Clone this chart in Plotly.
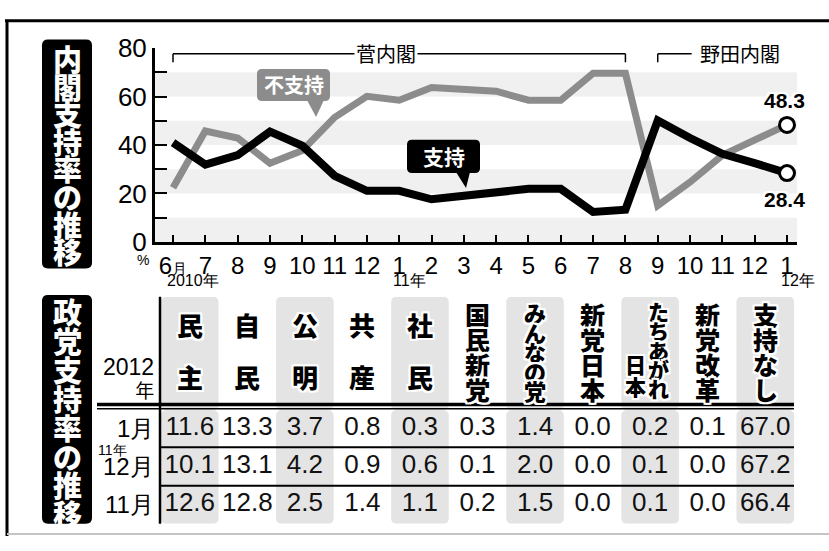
import plotly.graph_objects as go

W, H = 829, 551

# ---------------- data ----------------
months = ["6<span style='font-size:15px'>月</span>", "7", "8", "9", "10", "11", "12",
          "1", "2", "3", "4", "5", "6", "7", "8", "9", "10", "11", "12", "1"]
years = ["2010年", "11年", "12年"]
year_pos = [0, 7, 19]
support = [41.0, 31.9, 35.8, 45.5, 39.7, 27.3, 21.1, 21.1, 17.6, 18.9, 20.6,
           21.9, 21.9, 12.4, 13.3, 50.1, 42.9, 36.4, 32.5, 28.4]
disapprove = [22.4, 45.8, 42.9, 32.5, 37.7, 51.4, 60.1, 58.5, 63.7, 63.1, 62.2,
              58.5, 58.5, 69.6, 69.6, 15.0, 24.7, 35.8, 42.3, 48.3]
cabinets = ["菅内閣", "野田内閣"]
cabinet_start = [0, 15]
cabinet_end = [14, 19]
callout_support = "支持"
callout_disapprove = "不支持"

title_top = "内閣支持率の推移"
title_bottom = "政党支持率の推移"

parties = ["民主", "自民", "公明", "共産", "社民", "国民新党", "みんなの党",
           "新党日本", "たちあがれ日本", "新党改革", "支持なし"]
row_labels = ["1月", "12月", "11月"]
jan_2012 = [11.6, 13.3, 3.7, 0.8, 0.3, 0.3, 1.4, 0.0, 0.2, 0.1, 67.0]
dec_2011 = [10.1, 13.1, 4.2, 0.9, 0.6, 0.1, 2.0, 0.0, 0.1, 0.0, 67.2]
nov_2011 = [12.6, 12.8, 2.5, 1.4, 1.1, 0.2, 1.5, 0.0, 0.1, 0.0, 66.4]
table_rows = [jan_2012, dec_2011, nov_2011]

# ---------------- helpers ----------------
JP = "Noto Sans CJK JP"
SANS = "Liberation Sans, Arial"
HALO = ("white 2px 0px 0px, white -2px 0px 0px, white 0px 2px 0px, white 0px -2px 0px, "
        "white 2px 2px 0px, white -2px -2px 0px, white 2px -2px 0px, white -2px 2px 0px")


def px(x):
    return x / W


def py(y):
    return 1 - y / H


def rrect(x0, y0, x1, y1, r):
    return (f"M {px(x0+r)},{py(y0)} L {px(x1-r)},{py(y0)} Q {px(x1)},{py(y0)} {px(x1)},{py(y0+r)} "
            f"L {px(x1)},{py(y1-r)} Q {px(x1)},{py(y1)} {px(x1-r)},{py(y1)} "
            f"L {px(x0+r)},{py(y1)} Q {px(x0)},{py(y1)} {px(x0)},{py(y1-r)} "
            f"L {px(x0)},{py(y0+r)} Q {px(x0)},{py(y0)} {px(x0+r)},{py(y0)} Z")


def tri(a, b, c):
    return (f"M {px(a[0])},{py(a[1])} L {px(b[0])},{py(b[1])} L {px(c[0])},{py(c[1])} Z")


def note(**kw):
    d = dict(showarrow=False, xanchor="center", yanchor="middle")
    d.update(kw)
    return d


def vtext(chars, x, xref, y_first, step, fs, color, shadow="none"):
    """vertical (tategaki) text as one annotation: one glyph per line, tight line pitch"""
    body = "<br>".join(f"<span style='font-size:{fs}px'>{ch}</span>" for ch in chars)
    yc = y_first + step * (len(chars) - 1) / 2
    return note(x=x, xref=xref, y=py(yc), yref="paper", text=body,
                font=dict(family=JP, size=step / 1.3, color=color, weight=900, shadow=shadow))


fig = go.Figure()
shapes = []
ann = []
n = len(months)
xi = list(range(n))

# ---------------- line chart ----------------
fig.add_trace(go.Scatter(x=xi, y=disapprove, mode="lines", line=dict(color="#8c8c8c", width=7),
                         hoverinfo="skip", xaxis="x", yaxis="y"))
fig.add_trace(go.Scatter(x=xi, y=support, mode="lines", line=dict(color="#000000", width=8),
                         hoverinfo="skip", xaxis="x", yaxis="y"))
fig.add_trace(go.Scatter(x=[xi[-1], xi[-1]], y=[disapprove[-1], support[-1]], mode="markers",
                         marker=dict(size=15, color="white", line=dict(color="black", width=3)),
                         hoverinfo="skip", xaxis="x", yaxis="y"))

for lo in [0, 20, 40, 60]:
    shapes.append(dict(type="rect", xref="x domain", yref="y", x0=0, x1=1, y0=lo, y1=lo + 10,
                       fillcolor="#f0f0f0", line_width=0, layer="below"))

# end labels
ann.append(note(x=xi[-1], y=disapprove[-1], xref="x", yref="y", text=f"{disapprove[-1]:.1f}",
                yshift=24, xshift=-3,
                font=dict(family=SANS, size=21, color="black", weight="bold", shadow=HALO)))
ann.append(note(x=xi[-1], y=support[-1], xref="x", yref="y", text=f"{support[-1]:.1f}",
                yshift=-26, xshift=-3,
                font=dict(family=SANS, size=21, color="black", weight="bold", shadow=HALO)))

# year labels under month ticks
for t, p in zip(years, year_pos):
    ann.append(note(x=p, y=py(281), xref="x", yref="paper", text=t, xanchor="left", xshift=-8,
                    font=dict(family=SANS, size=16, color="black")))
ann.append(note(x=px(143), y=py(259), xref="paper", yref="paper", text="%",
                font=dict(family=SANS, size=14, color="black")))

# cabinet brackets
for name, s, e in zip(cabinets, cabinet_start, cabinet_end):
    if name == cabinets[0]:
        shapes.append(dict(type="line", xref="x", yref="paper", x0=s, x1=e, y0=py(41), y1=py(41),
                           line=dict(color="black", width=1.5)))
        for xx in (s, e):
            shapes.append(dict(type="line", xref="x", yref="paper", x0=xx, x1=xx, y0=py(41), y1=py(50),
                               line=dict(color="black", width=1.5)))
        ann.append(note(x=(s + e) / 2 - 0.4, y=py(41), xref="x", yref="paper", text=name,
                        bgcolor="white", borderpad=1,
                        font=dict(family=JP, size=20, color="black")))
    else:
        shapes.append(dict(type="line", xref="x", yref="paper", x0=s, x1=s + 1.05, y0=py(41), y1=py(41),
                           line=dict(color="black", width=1.5)))
        shapes.append(dict(type="line", xref="x", yref="paper", x0=s, x1=s, y0=py(41), y1=py(50),
                           line=dict(color="black", width=1.5)))
        ann.append(note(x=s + 1.25, y=py(41), xref="x", yref="paper", text=name, xanchor="left",
                        font=dict(family=JP, size=20, color="black")))

# callouts
shapes.append(dict(type="path", xref="paper", yref="paper", path=rrect(257, 57, 330, 91, 5),
                   fillcolor="#8c8c8c", line_width=0))
shapes.append(dict(type="path", xref="paper", yref="paper", path=tri((307, 90), (324, 90), (316, 108)),
                   fillcolor="#8c8c8c", line_width=0))
ann.append(note(x=px(293.5), y=py(74), xref="paper", yref="paper", text=callout_disapprove,
                font=dict(family=JP, size=20, color="white", weight="bold")))
shapes.append(dict(type="path", xref="paper", yref="paper", path=rrect(407, 132, 480, 167, 5),
                   fillcolor="black", line_width=0))
shapes.append(dict(type="path", xref="paper", yref="paper", path=tri((456, 166), (470, 166), (466, 183)),
                   fillcolor="black", line_width=0))
ann.append(note(x=px(443.5), y=py(149.5), xref="paper", yref="paper", text=callout_support,
                font=dict(family=JP, size=21, color="white", weight="bold")))

# ---------------- title boxes ----------------
for text, top, bot, first, step in [(title_top, 26, 268, 50.5, 27.6), (title_bottom, 296, 538, 319, 28.9)]:
    shapes.append(dict(type="path", xref="paper", yref="paper", path=rrect(42, top, 92, bot, 6),
                       fillcolor="black", line_width=0))
    ann.append(vtext(text, px(67), "paper", first, step, 29, "white"))

# ---------------- table ----------------
top2, bot2 = -3.432, 2.494
mid2 = (top2 + bot2) / 2
shaded = list(range(0, len(parties), 2))
for span in (bot2 - mid2, top2 - mid2):
    fig.add_trace(go.Bar(x=shaded, y=[span] * len(shaded), base=mid2, width=1,
                         marker=dict(color="#e4e4e4", cornerradius=5, line_width=0),
                         hoverinfo="skip", xaxis="x2", yaxis="y2"))

xs, ys, ts = [], [], []
for r, row in enumerate(table_rows):
    for c, v in enumerate(row):
        xs.append(c)
        ys.append(r)
        ts.append(f"{v:.1f}")
fig.add_trace(go.Scatter(x=xs, y=ys, text=ts, mode="text", textposition="middle center",
                         textfont=dict(family=SANS, size=26, color="#111111"),
                         hoverinfo="skip", xaxis="x2", yaxis="y2"))

# header characters (vertical writing)
colw = (794 - 161) / len(parties)
for c, name in enumerate(parties):
    if len(name) == 2:
        ann.append(vtext(name, c, "x2", 329, 52, 26, "black", HALO))
    elif name == "みんなの党":
        ann.append(vtext(name, c, "x2", 316, 19.6, 22, "black", HALO))
    elif name == "たちあがれ日本":
        ann.append(vtext(name[:5], c + 8 / colw, "x2", 315, 19.3, 21, "black", HALO))
        ann.append(vtext(name[5:], c - 15 / colw, "x2", 370, 22, 21, "black", HALO))
    else:
        ann.append(vtext(name, c, "x2", 318, 25, 25, "black", HALO))

# row labels
for r, lab in enumerate(row_labels):
    ann.append(note(x=px(156), y=r, xref="paper", yref="y2", text=lab, xanchor="right",
                    font=dict(family=SANS, size=24, color="black")))
ann.append(note(x=px(96), y=py(460), xref="paper", yref="paper", text="11年", xanchor="left",
                font=dict(family=SANS, size=14, color="black")))
ann.append(note(x=px(156), y=py(384), xref="paper", yref="paper", xanchor="right", align="right",
                text="<span style='font-size:23px'>2012</span><br><span style='font-size:19px'>年</span>",
                font=dict(family=SANS + ", " + JP, size=18, color="black")))

# table rules
shapes.append(dict(type="line", xref="paper", yref="y2 domain", x0=px(160), x1=px(160), y0=0, y1=1,
                   line=dict(color="black", width=2.5)))
shapes.append(dict(type="line", xref="paper", yref="paper", x0=px(97), x1=px(794), y0=py(412), y1=py(412),
                   line=dict(color="black", width=3.5)))
shapes.append(dict(type="line", xref="paper", yref="paper", x0=px(97), x1=px(794), y0=py(416.5), y1=py(416.5),
                   line=dict(color="black", width=1.5)))
for yy in (0.5, 1.5):
    shapes.append(dict(type="line", xref="x2 domain", yref="y2", x0=0, x1=1, y0=yy, y1=yy,
                       line=dict(color="black", width=2)))

# frame
shapes.append(dict(type="line", xref="paper", yref="paper", x0=px(5), x1=1, y0=py(6), y1=py(6),
                   line=dict(color="black", width=3)))
shapes.append(dict(type="line", xref="paper", yref="paper", x0=px(7), x1=px(7), y0=py(5), y1=0,
                   line=dict(color="black", width=3)))
shapes.append(dict(type="line", xref="paper", yref="paper", x0=px(7), x1=1, y0=py(549), y1=py(549),
                   line=dict(color="#c4c4c4", width=2)))

fig.update_layout(
    width=W, height=H, margin=dict(l=0, r=0, t=0, b=0),
    paper_bgcolor="white", plot_bgcolor="rgba(0,0,0,0)",
    showlegend=False, barmode="overlay",
    xaxis=dict(domain=[px(155), px(797)], range=[-(173 - 155) / 32.3158, 19 + (797 - 787) / 32.3158],
               tickvals=xi, ticktext=months, ticks="inside", ticklen=7, tickwidth=2, tickcolor="black",
               showline=True, linecolor="black", linewidth=3, showgrid=False, zeroline=False,
               tickfont=dict(family=SANS, size=24, color="black"), anchor="y"),
    yaxis=dict(domain=[py(240), py(35)], range=[0, 80], tickvals=[0, 20, 40, 60, 80],
               ticks="inside", ticklen=12, tickwidth=2, tickcolor="black",
               minor=dict(dtick=10, ticks="inside", ticklen=12, tickwidth=2, tickcolor="black", showgrid=False),
               showline=True, linecolor="black", linewidth=3, showgrid=False, zeroline=False,
               tickfont=dict(family=SANS, size=26, color="black"), anchor="x"),
    xaxis2=dict(domain=[px(161), px(794)], range=[-0.5, len(parties) - 0.5], visible=False, anchor="y2"),
    yaxis2=dict(domain=[py(538), py(298)], range=[bot2, top2], visible=False, anchor="x2"),
    shapes=shapes, annotations=ann,
)

fig.write_html("out.html")
